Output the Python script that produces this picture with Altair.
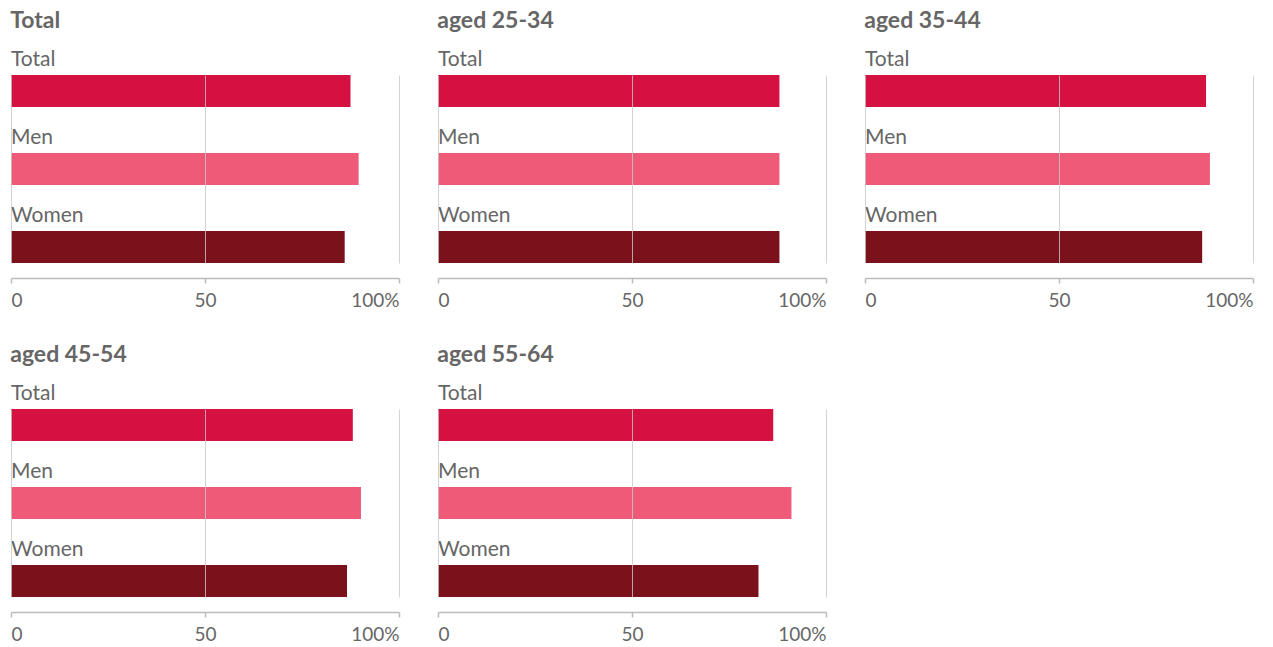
import altair as alt
import pandas as pd

FONT = "Lato"
TEXT_COLOR = "#666666"

panels = ["Total", "aged 25-34", "aged 35-44", "aged 45-54", "aged 55-64"]
groups = ["Total", "Men", "Women"]
values_total = [87.5, 89.6, 86.0]
values_25_34 = [88.0, 88.0, 88.0]
values_35_44 = [87.9, 88.9, 86.9]
values_45_54 = [88.1, 90.2, 86.6]
values_55_64 = [86.4, 91.1, 82.6]
colors = ["#D51142", "#EF5A79", "#7B111B"]
tick_values = [0, 50, 100]

panel_values = [values_total, values_25_34, values_35_44, values_45_54, values_55_64]


def panel(name, vals):
    d = pd.DataFrame({"group": groups, "value": vals})
    base = alt.Chart(d)
    yscale = alt.Scale(domain=groups, paddingInner=46 / 78, paddingOuter=0)
    bars = base.mark_bar().encode(
        x=alt.X(
            "value:Q",
            scale=alt.Scale(domain=[0, 100], nice=False),
            axis=alt.Axis(
                values=tick_values,
                title=None,
                grid=True,
                gridColor="#c8c8c8",
                gridOpacity=0.8,
                zindex=1,
                offset=15,
                domainColor="#bbbbbb",
                domainWidth=1.5,
                tickColor="#bbbbbb",
                tickWidth=1.5,
                tickSize=5,
                labelFlush=True,
                labelFont=FONT,
                labelFontSize=19,
                labelColor=TEXT_COLOR,
                labelPadding=8,
                labelExpr="datum.value == 100 ? '100%' : datum.label",
            ),
        ),
        y=alt.Y("group:N", scale=yscale, axis=None),
        color=alt.Color(
            "group:N", scale=alt.Scale(domain=groups, range=colors), legend=None
        ),
    )
    labels = base.mark_text(
        align="left",
        baseline="alphabetic",
        dy=-9,
        font=FONT,
        fontSize=21,
        color=TEXT_COLOR,
    ).encode(
        x=alt.datum(0),
        y=alt.Y("group:N", bandPosition=0),
        text="group:N",
    )
    return alt.layer(bars, labels).properties(
        width=388,
        height=188,
        title=alt.TitleParams(
            name,
            anchor="start",
            font=FONT,
            fontSize=23,
            fontWeight="bold",
            color=TEXT_COLOR,
            offset=16,
        ),
    )


charts = [panel(n, v) for n, v in zip(panels, panel_values)]
row1 = alt.hconcat(*charts[:3], spacing=37)
row2 = alt.hconcat(*charts[3:], spacing=37)
chart = (
    alt.vconcat(row1, row2, spacing=34)
    .properties(padding={"left": 10, "top": 10, "right": 5, "bottom": 5})
    .configure_view(stroke=None)
)

chart.save("out.html", embed_options={"renderer": "svg", "actions": False})
